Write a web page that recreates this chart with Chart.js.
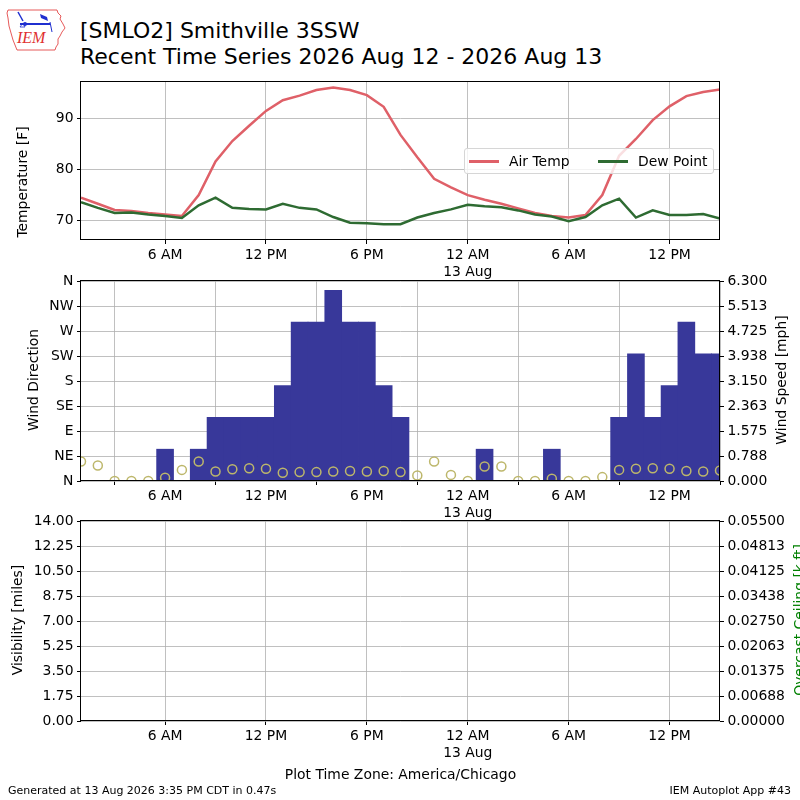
<!DOCTYPE html>
<html>
<head>
<meta charset="utf-8">
<script src="https://cdn.jsdelivr.net/npm/chart.js@4.4.1/dist/chart.umd.min.js"></script>
<style>
  html, body { margin: 0; padding: 0; background: #fff; overflow: hidden; }
  #page { position: relative; width: 800px; height: 800px; overflow: hidden; font-family: 'DejaVu Sans', sans-serif; color: #000; }
  canvas { position: absolute; left: 0; }
  .t { position: absolute; white-space: nowrap; line-height: 1; }
  .rot { position: absolute; white-space: nowrap; line-height: 1; font-size: 13.9px; transform: translate(-50%, -50%) rotate(-90deg); }
  #legend { position: absolute; left: 464px; top: 148px; width: 248px; height: 24px; border: 1px solid #d6d6d6; border-radius: 3px; background: rgba(255,255,255,0.8); font-size: 13.9px; }
  #legend .ln { position: absolute; top: 11px; width: 30px; height: 3px; }
  #legend .lb { position: absolute; top: 6px; line-height: 1; }
</style>
</head>
<body>
<div id="page">
  <svg style="position:absolute;left:0;top:0" width="70" height="55" viewBox="0 0 70 55">
    <path d="M8 10 L57 10 L58 13 L61 16 L60 19 L63 24 L65 28 L62 32 L60 36 L58 39 L58 44 L56 47 L55 50 L17 50 L15 45 L13 40 L11 33 L9 26 L8 18 L7 13 Z" fill="none" stroke="#e03030" stroke-width="0.8"/>
    <line x1="20" y1="24" x2="50" y2="24" stroke="#1f2fd0" stroke-width="2"/>
    <line x1="18" y1="12" x2="23" y2="21" stroke="#1f2fd0" stroke-width="1.5"/>
    <circle cx="25" cy="24" r="2" fill="#1f2fd0"/>
    <path d="M20 27 L23 23 L25 27 Z" fill="none" stroke="#1f2fd0" stroke-width="0.8"/>
    <path d="M40 14 L47 17 L48 21 L41 18 Z" fill="#1f2fd0"/>
    <line x1="50" y1="22" x2="52" y2="32" stroke="#1f2fd0" stroke-width="1"/>
    <text x="17" y="43" font-family="'Liberation Serif', serif" font-style="italic" font-size="16" fill="#e03030">IEM</text>
  </svg>

  <div class="t" style="left:80px;top:20px;font-size:22px;">[SMLO2] Smithville 3SSW</div>
  <div class="t" style="left:80px;top:46px;font-size:22px;">Recent Time Series 2026 Aug 12 - 2026 Aug 13</div>

  <canvas id="c1" width="800" height="215" style="top:70px"></canvas>
  <canvas id="c2" width="800" height="257" style="top:269px"></canvas>
  <canvas id="c3" width="800" height="292" style="top:509px"></canvas>

  <div id="legend">
    <div class="ln" style="left:4px;background:#df6068"></div>
    <div class="lb" style="left:44px">Air Temp</div>
    <div class="ln" style="left:133px;background:#2e6b32"></div>
    <div class="lb" style="left:173px">Dew Point</div>
  </div>

  <div class="rot" style="left:23px;top:182px">Temperature [F]</div>
  <div class="rot" style="left:34px;top:380px">Wind Direction</div>
  <div class="rot" style="left:782px;top:380px">Wind Speed [mph]</div>
  <div class="rot" style="left:18px;top:620px">Visibility [miles]</div>
  <div class="rot" style="left:800px;top:620px;color:#008000">Overcast Ceiling [k ft]</div>

  <div class="t" style="left:0;width:801px;text-align:center;top:768px;font-size:13.9px;">Plot Time Zone: America/Chicago</div>
  <div class="t" style="left:8px;top:785px;font-size:11px;">Generated at 13 Aug 2026 3:35 PM CDT in 0.47s</div>
  <div class="t" style="right:9px;top:785px;font-size:11px;">IEM Autoplot App #43</div>
</div>

<script>
// hourly obs, 1 AM 12 Aug through 3 PM 13 Aug (America/Chicago)
const obsTimes = [
  '1 AM', '2 AM', '3 AM', '4 AM', '5 AM', '6 AM', '7 AM', '8 AM', '9 AM', '10 AM', '11 AM', '12 PM',
  '1 PM', '2 PM', '3 PM', '4 PM', '5 PM', '6 PM', '7 PM', '8 PM', '9 PM', '10 PM', '11 PM',
  '12 AM', '1 AM', '2 AM', '3 AM', '4 AM', '5 AM', '6 AM', '7 AM', '8 AM', '9 AM', '10 AM', '11 AM',
  '12 PM', '1 PM', '2 PM', '3 PM'
];
const airTemp = [
  74.4, 73.2, 72.0, 71.8, 71.4, 71.1, 70.8, 74.9, 81.5, 85.5, 88.5, 91.4,
  93.5, 94.4, 95.5, 96.0, 95.5, 94.5, 92.2, 86.7, 82.3, 78.1, 76.4,
  74.9, 74.0, 73.2, 72.3, 71.4, 70.8, 70.5, 71.0, 74.9, 82.6, 85.9, 89.6,
  92.3, 94.3, 95.1, 95.6
];
const dewPoint = [
  73.5, 72.4, 71.4, 71.5, 71.1, 70.8, 70.4, 72.9, 74.4, 72.4, 72.2, 72.1,
  73.2, 72.4, 72.1, 70.6, 69.5, 69.4, 69.2, 69.2, 70.5, 71.4, 72.1,
  73.0, 72.7, 72.5, 71.9, 71.1, 70.7, 69.8, 70.6, 72.9, 74.2, 70.5, 71.9,
  71.0, 71.0, 71.2, 70.3
];
const windSpeed = [
  0, 0, 0, 0, 0, 1, 0, 1, 2, 2, 2, 2,
  3, 5, 5, 6, 5, 5, 3, 2, 0, 0, 0,
  0, 1, 0, 0, 0, 1, 0, 0, 0, 2, 4, 2,
  3, 5, 4, 4
];
const windDir = [
  35, 28, 0, 0, 0, 6, 20, 35, 17, 21, 23, 22,
  15, 16, 16, 17, 18, 17, 18, 16, 10, 35, 11,
  0, 26, 26, 0, 0, 4, 0, 0, 7, 20, 22, 23,
  22, 18, 17, 19
];
const visibility = [];
const ceiling = [];

const timeTicks = [5, 11, 17, 23, 29, 35];
const timeTickLabels = ['6 AM', '12 PM', '6 PM', ['12 AM', '13 Aug'], '6 AM', '12 PM'];
const tempTicks = [70, 80, 90];
const dirTicks = [0, 45, 90, 135, 180, 225, 270, 315, 360];
const dirTickLabels = ['N', 'NE', 'E', 'SE', 'S', 'SW', 'W', 'NW', 'N'];
const speedTicks = [0, 0.7875, 1.575, 2.3625, 3.15, 3.9375, 4.725, 5.5125, 6.3];
const speedTickLabels = ['0.000', '0.788', '1.575', '2.363', '3.150', '3.938', '4.725', '5.513', '6.300'];
const visTicks = [0, 1.75, 3.5, 5.25, 7, 8.75, 10.5, 12.25, 14];
const visTickLabels = ['0.00', '1.75', '3.50', '5.25', '7.00', '8.75', '10.50', '12.25', '14.00'];
const ceilTicks = [0, 0.006875, 0.01375, 0.020625, 0.0275, 0.034375, 0.04125, 0.048125, 0.055];
const ceilTickLabels = ['0.00000', '0.00688', '0.01375', '0.02063', '0.02750', '0.03438', '0.04125', '0.04813', '0.05500'];

Chart.defaults.font.family = "'DejaVu Sans', sans-serif";
Chart.defaults.font.size = 13.9;
Chart.defaults.color = '#000';

const pts = arr => arr.map((v, i) => ({ x: i, y: v }));

const gridStyle = { color: '#b0b0b0', lineWidth: 0.8, tickColor: '#000', tickLength: 4, tickWidth: 1 };

// black box round the plot area, like the matplotlib spines
const frame = {
  id: 'frame',
  afterDraw(chart) {
    const { ctx, chartArea: a } = chart;
    const l = Math.round(a.left) - 0.5, t = Math.round(a.top) - 0.5;
    const r = Math.round(a.right) - 0.5, b = Math.round(a.bottom) - 0.5;
    ctx.save();
    ctx.strokeStyle = '#000';
    ctx.lineWidth = 1;
    ctx.strokeRect(l, t, r - l, b - t);
    ctx.restore();
  }
};

function timeAxis(z) {
  return {
    type: 'linear',
    min: 0,
    max: obsTimes.length - 1,
    offset: false,
    bounds: 'data',
    z: z,
    afterBuildTicks: s => { s.ticks = timeTicks.map(v => ({ value: v })); },
    afterFit: s => { s.height = 45; },
    grid: { ...gridStyle },
    border: { display: false },
    ticks: { autoSkip: false, maxRotation: 0, padding: 3, callback: (v, i) => timeTickLabels[i] }
  };
}

function valueAxis(min, max, values, labels, side, width, z) {
  return {
    type: 'linear',
    position: side,
    min: min,
    max: max,
    bounds: 'data',
    z: z,
    afterBuildTicks: s => { s.ticks = values.map(v => ({ value: v })); },
    afterFit: s => { s.width = width; },
    grid: side === 'left' ? { ...gridStyle } : { ...gridStyle, drawOnChartArea: false },
    border: { display: false },
    ticks: { autoSkip: false, padding: 3.5, callback: (v, i) => labels[i] }
  };
}

const baseOptions = (pad) => ({
  responsive: false,
  animation: false,
  layout: { padding: { top: pad.top, right: pad.right, left: 0, bottom: 0 } },
  plugins: { legend: { display: false }, tooltip: { enabled: false } }
});

new Chart(document.getElementById('c1'), {
  type: 'line',
  data: {
    datasets: [
      { label: 'Air Temp', data: pts(airTemp), borderColor: '#df6068', borderWidth: 2.5, pointRadius: 0, tension: 0, order: 1 },
      { label: 'Dew Point', data: pts(dewPoint), borderColor: '#2e6b32', borderWidth: 2.5, pointRadius: 0, tension: 0, order: 0 }
    ]
  },
  options: {
    ...baseOptions({ top: 11, right: 80 }),
    scales: {
      x: timeAxis(0),
      y: valueAxis(66.1, 97.1, tempTicks, tempTicks.map(String), 'left', 81, 0)
    }
  },
  plugins: [frame]
});

new Chart(document.getElementById('c2'), {
  type: 'bar',
  data: {
    datasets: [
      {
        type: 'scatter', label: 'Wind Direction', data: pts(windDir), yAxisID: 'y',
        pointRadius: 4.5, pointBorderWidth: 1.5, borderColor: '#bdb76b', backgroundColor: 'rgba(0,0,0,0)',
        order: 0, clip: 0
      },
      {
        type: 'bar', label: 'Wind Speed', data: pts(windSpeed), yAxisID: 'y1',
        backgroundColor: '#38389a', borderWidth: 0, barPercentage: 1, categoryPercentage: 1,
        inflateAmount: 0.4, order: 1, clip: 0
      }
    ]
  },
  options: {
    ...baseOptions({ top: 12, right: 0 }),
    scales: {
      x: timeAxis(1),
      y: valueAxis(0, 360, dirTicks, dirTickLabels, 'left', 81, 1),
      y1: valueAxis(0, 6.3, speedTicks, speedTickLabels, 'right', 80, 1)
    }
  },
  plugins: [frame]
});

new Chart(document.getElementById('c3'), {
  type: 'line',
  data: {
    datasets: [
      { label: 'Visibility', data: pts(visibility), yAxisID: 'y' },
      { label: 'Overcast Ceiling', data: pts(ceiling), yAxisID: 'y1' }
    ]
  },
  options: {
    ...baseOptions({ top: 12, right: 0 }),
    scales: {
      x: { ...timeAxis(0), afterFit: s => { s.height = 80; } },
      y: valueAxis(0, 14, visTicks, visTickLabels, 'left', 81, 0),
      y1: valueAxis(0, 0.055, ceilTicks, ceilTickLabels, 'right', 80, 0)
    }
  },
  plugins: [frame]
});
</script>
</body>
</html>
